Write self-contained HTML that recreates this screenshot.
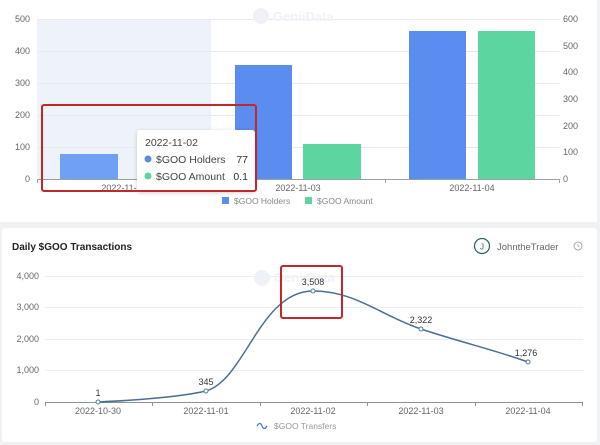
<!DOCTYPE html>
<html><head><meta charset="utf-8"><style>
body{margin:0;width:600px;height:445px;background:#f0f1f3;overflow:hidden;font-family:"Liberation Sans",sans-serif}
svg{position:absolute;left:0;top:0}
</style></head><body>
<svg width="600" height="445" viewBox="0 0 600 445" font-family="Liberation Sans, sans-serif">
<defs><filter id="sh" x="-20%" y="-20%" width="140%" height="140%"><feDropShadow dx="0" dy="1" stdDeviation="2" flood-color="#000" flood-opacity="0.18"/></filter></defs>
<rect x="0" y="0" width="597" height="222" fill="#fff"/>
<rect x="2" y="228" width="595" height="214" rx="3" fill="#fff"/>
<!-- top chart -->
<rect x="37" y="19" width="174" height="160" fill="#eef3fa"/>
<g stroke="#e8eaee" stroke-width="1">
<line x1="37" y1="19.5" x2="560" y2="19.5"/><line x1="37" y1="51.5" x2="560" y2="51.5"/><line x1="37" y1="83.5" x2="560" y2="83.5"/><line x1="37" y1="115.5" x2="560" y2="115.5"/><line x1="37" y1="147.5" x2="560" y2="147.5"/>
</g>
<line x1="37" y1="179.5" x2="560" y2="179.5" stroke="#9aa0a8"/>
<g stroke="#9aa0a8"><line x1="37.5" y1="179" x2="37.5" y2="183"/><line x1="211.5" y1="179" x2="211.5" y2="183"/><line x1="385.5" y1="179" x2="385.5" y2="183"/><line x1="559.5" y1="179" x2="559.5" y2="183"/></g>
<g font-size="9" fill="#666" text-anchor="end"><text x="30" y="22">500</text><text x="30" y="54">400</text><text x="30" y="86">300</text><text x="30" y="118">200</text><text x="30" y="150">100</text><text x="30" y="182">0</text></g>
<g font-size="9" fill="#666"><text x="563" y="22">600</text><text x="563" y="49">500</text><text x="563" y="75">400</text><text x="563" y="102">300</text><text x="563" y="129">200</text><text x="563" y="155">100</text><text x="563" y="182">0</text></g>
<text x="273" y="21" font-size="13" fill="#eef2f8" font-weight="bold">GeniiData</text>
<circle cx="261" cy="16" r="8" fill="#eef2f8"/>
<rect x="60" y="154" width="58" height="25" fill="#6ea0f5"/>
<rect x="235" y="65" width="57" height="114" fill="#5b8cf0"/>
<rect x="303" y="144" width="58" height="35" fill="#5dd5a1"/>
<rect x="409" y="31" width="57" height="148" fill="#5b8cf0"/>
<rect x="478" y="31" width="57" height="148" fill="#5dd5a1"/>
<g font-size="9" fill="#666" text-anchor="middle"><text x="124" y="191">2022-11-02</text><text x="298" y="191">2022-11-03</text><text x="472" y="191">2022-11-04</text></g>
<rect x="137" y="130" width="118" height="62" rx="3" fill="#fff" filter="url(#sh)"/>
<text x="145" y="146" font-size="10.5" fill="#444">2022-11-02</text>
<circle cx="148" cy="159" r="3.5" fill="#5b8cd8"/><text x="156" y="163" font-size="10.5" fill="#444">$GOO Holders</text><text x="248" y="163" font-size="10.5" fill="#333" text-anchor="end">77</text>
<circle cx="148" cy="176" r="3.5" fill="#5dd5a1"/><text x="156" y="180" font-size="10.5" fill="#444">$GOO Amount</text><text x="248" y="180" font-size="10.5" fill="#333" text-anchor="end">0.1</text>
<rect x="42" y="105" width="214" height="86" rx="2" fill="none" stroke="#c0282b" stroke-width="2"/>
<rect x="222" y="197" width="7" height="7" fill="#5b8cf0"/><text x="234" y="204" font-size="8.5" fill="#888">$GOO Holders</text>
<rect x="305" y="197" width="7" height="7" fill="#5dd5a1"/><text x="317" y="204" font-size="8.5" fill="#888">$GOO Amount</text>
<!-- bottom chart -->
<text x="12" y="250" font-size="10" font-weight="bold" fill="#222">Daily $GOO Transactions</text>
<circle cx="482" cy="246" r="7.5" fill="#fff" stroke="#2b5d6e" stroke-width="1.2"/><text x="482" y="249.5" font-size="8" fill="#2b5d6e" text-anchor="middle">J</text>
<text x="497" y="250" font-size="9.5" fill="#666">JohntheTrader</text>
<circle cx="578" cy="246" r="4" fill="none" stroke="#999" stroke-width="0.8"/><path d="M578 244v2.2l1.3 0.8" stroke="#999" stroke-width="0.7" fill="none"/>
<g stroke="#eceef1"><line x1="45" y1="276.5" x2="583" y2="276.5"/><line x1="45" y1="307.5" x2="583" y2="307.5"/><line x1="45" y1="339.5" x2="583" y2="339.5"/><line x1="45" y1="370.5" x2="583" y2="370.5"/></g>
<line x1="45" y1="402.5" x2="583" y2="402.5" stroke="#8a919a"/>
<g stroke="#8a919a"><line x1="45.5" y1="402" x2="45.5" y2="406"/><line x1="152.5" y1="402" x2="152.5" y2="406"/><line x1="260.5" y1="402" x2="260.5" y2="406"/><line x1="367.5" y1="402" x2="367.5" y2="406"/><line x1="475.5" y1="402" x2="475.5" y2="406"/><line x1="582.5" y1="402" x2="582.5" y2="406"/></g>
<g font-size="9" fill="#666" text-anchor="end"><text x="39" y="279">4,000</text><text x="39" y="310">3,000</text><text x="39" y="342">2,000</text><text x="39" y="373">1,000</text><text x="39" y="405">0</text></g>
<g font-size="9" fill="#666" text-anchor="middle"><text x="98" y="414">2022-10-30</text><text x="206" y="414">2022-11-01</text><text x="313" y="414">2022-11-02</text><text x="421" y="414">2022-11-03</text><text x="528" y="414">2022-11-04</text></g>
<text x="274" y="282" font-size="13" fill="#eef2f7" font-weight="bold">GeniiData</text>
<circle cx="262" cy="278" r="8" fill="#eef2f7"/>
<path d="M98 402 C140 400,180 397,206 391 C245 380,260 291,313 291 C355 291,380 315,421 329 C460 342,495 350,528 362" fill="none" stroke="#4a6f94" stroke-width="1.5"/>
<g fill="#fff" stroke="#4a7bb0" stroke-width="1"><circle cx="98" cy="402" r="2"/><circle cx="206" cy="391" r="2"/><circle cx="313" cy="291" r="2"/><circle cx="421" cy="329" r="2"/><circle cx="528" cy="362" r="2"/></g>
<g font-size="9" fill="#333" text-anchor="middle"><text x="98" y="396">1</text><text x="206" y="385">345</text><text x="313" y="285">3,508</text><text x="421" y="323">2,322</text><text x="526" y="356">1,276</text></g>
<rect x="281" y="266" width="61" height="52" rx="2" fill="none" stroke="#c0282b" stroke-width="2"/>
<path d="M257 426 q3 -5 5 0 q2 5 5 0" fill="none" stroke="#4a7bb0" stroke-width="1.3"/>
<text x="274" y="429" font-size="8.5" fill="#999">$GOO Transfers</text>
</svg>
</body></html>
